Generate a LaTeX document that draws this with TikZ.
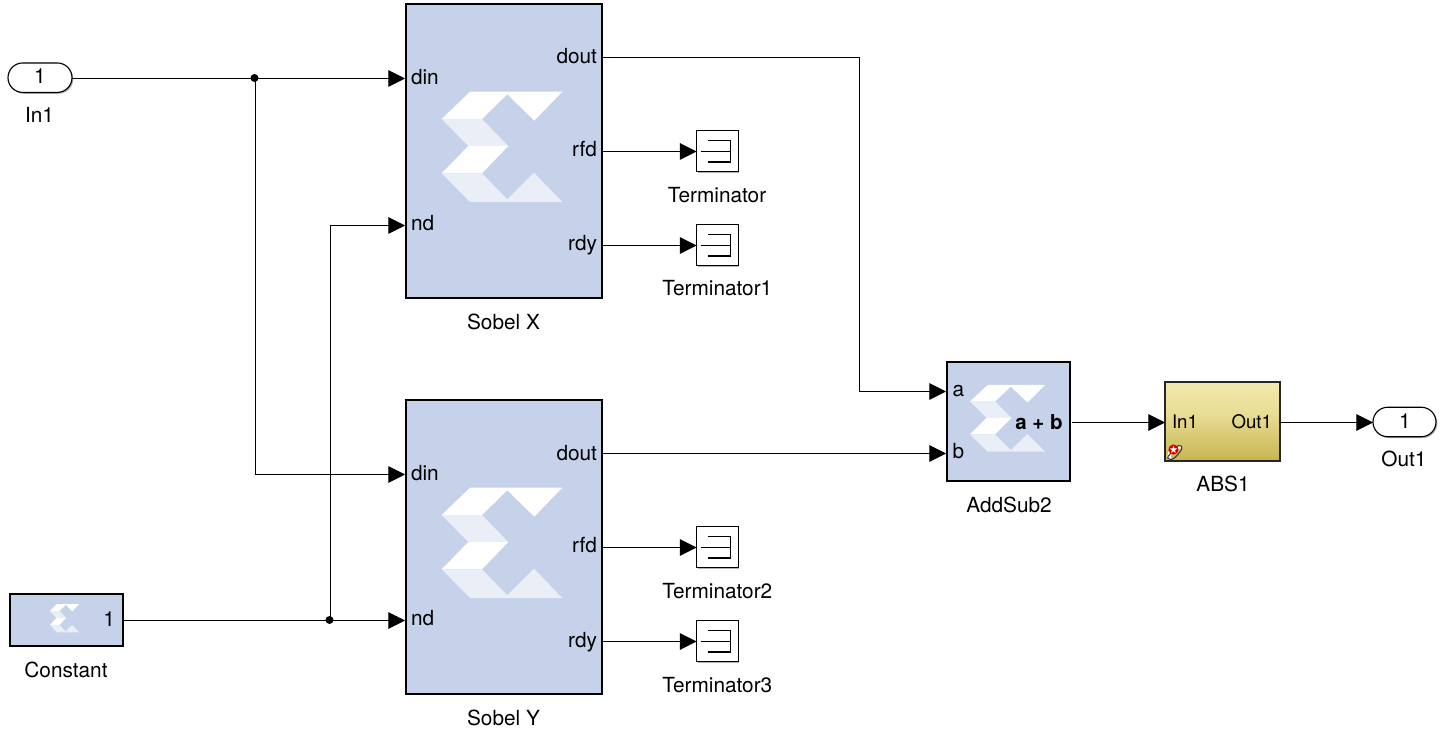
\documentclass[tikz,border=0pt]{standalone}
\usepackage{fontspec}
\setmainfont{TeX Gyre Heros}
\usetikzlibrary{arrows.meta,shapes.misc,shadows}
\definecolor{xblue}{HTML}{C5D2E9}
\definecolor{xlight}{HTML}{EAEFF7}
\pgfdeclareverticalshading{absshade}{100bp}{
  color(0bp)=(rgb,255:red,198;green,181;blue,80);
  color(25bp)=(rgb,255:red,198;green,181;blue,80);
  color(55bp)=(rgb,255:red,233;green,220;blue,150);
  color(75bp)=(rgb,255:red,243;green,233;blue,171);
  color(100bp)=(rgb,255:red,243;green,233;blue,171)}
\tikzset{
  x=0.75pt,y=-0.75pt,
  sized/.style 2 args={minimum width=#1*0.75pt,minimum height=#2*0.75pt,inner sep=0pt,outer sep=0pt},
  softshadow/.style={drop shadow={shadow xshift=1pt,shadow yshift=-1pt,opacity=.3,fill=black}},
  xblock/.style={draw=black,line width=1.6pt,fill=xblue},
  term/.style={draw=black,line width=0.85pt,fill=white,softshadow},
  pill/.style={rounded rectangle,draw=black,line width=0.85pt,fill=white,softshadow},
  absblock/.style={draw=black!85,line width=1pt,softshadow,shading=absshade},
  wire/.style={draw=black,line width=0.75pt},
  arrowwire/.style={wire,-{Triangle[length=12.5pt,width=12.5pt]}},
  dotnode/.style={circle,fill=black,inner sep=0pt,minimum size=6pt},
  txt/.style={inner sep=0pt,outer sep=0pt,font=\fontsize{15.6}{16}\selectfont,text=black},
  small/.style={inner sep=0pt,outer sep=0pt,font=\fontsize{14}{15}\selectfont,text=black},
}
% logo: #1 = left x, #2 = top y, #3 = width, #4 = height (pixels)
\newcommand{\xlogo}[4]{%
  \begin{scope}[shift={(#1,#2)},x=#3*0.75pt/120.6,y=-#4*0.75pt/110.3]
    \fill[white] (0,27.3) -- (28.3,0) -- (120.6,0) -- (92.6,29) -- (65.6,2.6) -- (40.3,27.3) -- cycle;
    \fill[xlight] (0,27.3) -- (40.3,27.3) -- (66.6,54.3) -- (26.6,54.3) -- cycle;
    \fill[white] (26.6,54.3) -- (66.6,54.3) -- (40.3,81.6) -- (0,81.6) -- cycle;
    \fill[xlight] (0,81.6) -- (40.3,81.6) -- (65.6,107.6) -- (92.3,81) -- (120.6,110.3) -- (28.3,110.3) -- cycle;
  \end{scope}}
\newcommand{\termglyph}[2]{%
  \draw[line width=1.1pt] (#1+4.5,#2) -- (#1+34.5,#2);
  \draw[line width=0.95pt] (#1+12,#2-11) -- (#1+34.5,#2-11) -- (#1+34.5,#2+10.5) -- (#1+12,#2+10.5);}
\begin{document}
\begin{tikzpicture}
\useasboundingbox (0,0) rectangle (1450,734);
\fill[white] (0,0) rectangle (1450,734);

% blocks
\node[xblock,sized={196}{294}] (sx) at (504,151) {};
\node[xblock,sized={196}{294}] (sy) at (504,547) {};
\node[xblock,sized={123.5}{119.5}] (add) at (1008.5,421.5) {};
\node[xblock,sized={113}{51.5}] (const) at (66.5,620) {};
\node[absblock,sized={115}{79}] (abs) at (1222.5,421.5) {};
\node[pill,sized={64}{29.5}] (in1) at (40,77.7) {};
\node[pill,sized={63}{29.5}] (out1) at (1404.5,422) {};
\node[term,sized={41.7}{41.7}] (t0) at (717.3,151) {};
\node[term,sized={41.7}{41.7}] (t1) at (717.3,245) {};
\node[term,sized={41.7}{41.7}] (t2) at (717.3,547) {};
\node[term,sized={41.7}{41.7}] (t3) at (717.3,641) {};

% logos
\xlogo{441.7}{91.7}{120.6}{110.3}
\xlogo{441.7}{487.7}{120.6}{110.3}
\xlogo{970}{385}{75}{66.7}
\xlogo{50}{604}{29}{28.3}

% terminator glyphs
\termglyph{696.3}{151.5}
\termglyph{696.3}{245.5}
\termglyph{696.3}{547.5}
\termglyph{696.3}{641.5}

% red link icon on ABS1
\draw[white,line width=2.6pt] (1170,459) .. controls (1166,453) and (1176,446) .. (1181,447);
\draw[black!80,line width=0.8pt] (1169,459) .. controls (1172,461) and (1176,457) .. (1179,453) .. controls (1182,450) and (1183,446) .. (1180,445.5) .. controls (1177,445) and (1174,449) .. (1172,452) .. controls (1169,455) and (1166,458) .. (1169,459) -- cycle;
\fill[red!85!black] (1173.5,449.5) circle[radius=3.8pt];
\fill[white] (1173.5,445.8) -- (1174.4,448.3) -- (1177,448.5) -- (1175,450.2) -- (1175.7,452.8) -- (1173.5,451.4) -- (1171.3,452.8) -- (1172,450.2) -- (1170,448.5) -- (1172.6,448.3) -- cycle;

% port coordinates
\coordinate (sx-din) at (405,78.5);
\coordinate (sx-nd) at (405,225.5);
\coordinate (sy-din) at (405,474.5);
\coordinate (sy-nd) at (405,620.5);
\coordinate (sx-dout) at (603,57.5);
\coordinate (sx-rfd) at (603,151.5);
\coordinate (sx-rdy) at (603,245.5);
\coordinate (sy-dout) at (603,453.5);
\coordinate (sy-rfd) at (603,547.5);
\coordinate (sy-rdy) at (603,641.5);
\coordinate (add-a) at (946,391.5);
\coordinate (add-b) at (946,453.5);
\coordinate (add-out) at (1072,422.5);
\coordinate (abs-in) at (1165,422.5);
\coordinate (abs-out) at (1280,422.5);
\coordinate (in-out) at (72,78.5);
\coordinate (const-out) at (123.5,620.5);
\coordinate (pillout-in) at (1373,422.5);
\coordinate (t0-in) at (696.5,151.5);
\coordinate (t1-in) at (696.5,245.5);
\coordinate (t2-in) at (696.5,547.5);
\coordinate (t3-in) at (696.5,641.5);
\coordinate (bend) at (859.5,57.5);
\coordinate (b1) at (255.5,78.5);
\coordinate (b2) at (330.5,620.5);
\node[dotnode] (j1) at (254.5,78) {};
\node[dotnode] (j2) at (329.5,620) {};

% connectors
\draw[arrowwire] (in-out) -- (sx-din);
\draw[arrowwire] (b1) |- (sy-din);
\draw[arrowwire] (const-out) -- (sy-nd);
\draw[arrowwire] (b2) |- (sx-nd);
\draw[arrowwire] (sx-dout) -- (bend) |- (add-a);
\draw[arrowwire] (sy-dout) -- (add-b);
\draw[arrowwire] (sx-rfd) -- (t0-in);
\draw[arrowwire] (sx-rdy) -- (t1-in);
\draw[arrowwire] (sy-rfd) -- (t2-in);
\draw[arrowwire] (sy-rdy) -- (t3-in);
\draw[arrowwire] (add-out) -- (abs-in);
\draw[arrowwire] (abs-out) -- (pillout-in);

% port texts
\node[txt,anchor=base west] (l1) at (411,84.5) {din};
\node[txt,anchor=base west] (l2) at (411,230.5) {nd};
\node[txt,anchor=base east] (l3) at (597,64) {dout};
\node[txt,anchor=base east] (l4) at (597,157) {rfd};
\node[txt,anchor=base east] (l5) at (597,251) {rdy};
\node[txt,anchor=base west] (l6) at (411,480.5) {din};
\node[txt,anchor=base west] (l7) at (411,625.5) {nd};
\node[txt,anchor=base east] (l8) at (597,460) {dout};
\node[txt,anchor=base east] (l9) at (597,552.5) {rfd};
\node[txt,anchor=base east] (l10) at (597,647) {rdy};
\node[txt,anchor=base west] (l11) at (952.5,397) {a};
\node[txt,anchor=base west] (l12) at (952.5,458) {b};
\node[txt,anchor=base east,font=\fontsize{15.4}{16}\selectfont\bfseries] (l13) at (1062.7,429.3) {a + b};
\node[small,anchor=base west] (l14) at (1172,428.3) {In1};
\node[small,anchor=base east] (l15) at (1272,428.3) {Out1};
\node[txt,anchor=base] (l16) at (40,84) {1};
\node[txt,anchor=base] (l17) at (1405,428.5) {1};
\node[txt,anchor=base east] (l18) at (115,626) {1};

% block labels
\node[txt,anchor=base] (n1) at (39.5,123) {In1};
\node[txt,anchor=base] (n2) at (66,677) {Constant};
\node[txt,anchor=base] (n3) at (503.5,329.5) {Sobel X};
\node[txt,anchor=base] (n4) at (503.5,725.5) {Sobel Y};
\node[txt,anchor=base] (n5) at (717,202.5) {Terminator};
\node[txt,anchor=base] (n6) at (717.3,295.5) {Terminator1};
\node[txt,anchor=base] (n7) at (717.3,598) {Terminator2};
\node[txt,anchor=base] (n8) at (717.3,692) {Terminator3};
\node[txt,anchor=base] (n9) at (1009,512.5) {AddSub2};
\node[txt,anchor=base] (n10) at (1223,491.5) {ABS1};
\node[txt,anchor=base] (n11) at (1404,466.5) {Out1};
\end{tikzpicture}
\end{document}
